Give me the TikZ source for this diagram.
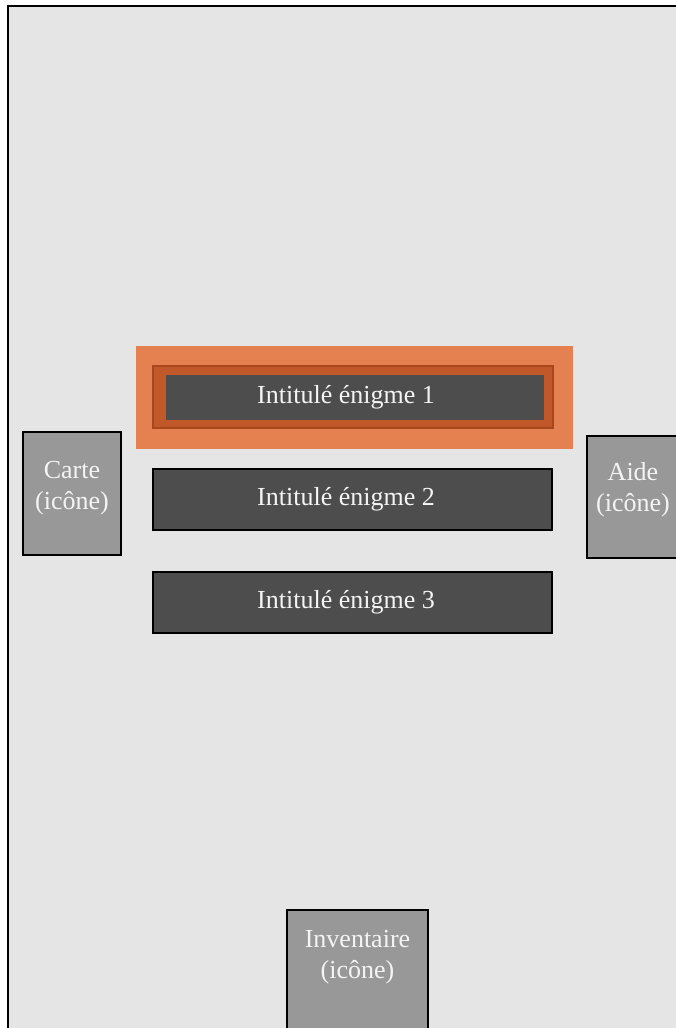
\documentclass[tikz,border=0pt]{standalone}
\usepackage{fontspec}
\setmainfont{Liberation Serif}
\definecolor{bgc}{HTML}{E5E5E5}
\definecolor{hlc}{HTML}{E58050}
\definecolor{hlin}{HTML}{C0582A}
\definecolor{hlbd}{HTML}{A8471C}
\definecolor{darkc}{HTML}{4D4D4D}
\definecolor{iconc}{HTML}{989898}
\definecolor{txtc}{HTML}{F4F4F4}
\tikzset{
  darkbox/.style={draw=black, line width=2pt, fill=darkc, inner sep=0pt},
  iconbox/.style={draw=black, line width=2pt, fill=iconc, inner sep=0pt},
  lbl/.style={text=txtc, font=\fontsize{26}{31}\selectfont, align=center, inner sep=0pt},
}
\begin{document}
\begin{tikzpicture}[x=1pt,y=-1pt]
\useasboundingbox (0,0) rectangle (676,1028);
\fill[white] (0,0) rectangle (676,1028);
\draw[line width=2.5pt, fill=bgc] (8,6) rectangle (700,1050);
% highlighted item 1
\node[fill=hlc, inner sep=0pt, minimum width=437pt, minimum height=103pt] (hl) at (354.5,397.5) {};
\node[fill=hlin, draw=hlbd, line width=1.5pt, inner sep=0pt, minimum width=400pt, minimum height=62pt] (hlin) at (353,397) {};
\node[fill=darkc, inner sep=0pt, minimum width=378pt, minimum height=45pt] (e1) at (355,397.5) {};
\node[lbl] (t1) at (346,397) {Intitulé énigme 1};
% items 2 and 3
\node[darkbox, minimum width=399pt, minimum height=61pt] (e2) at (352.5,499.5) {};
\node[lbl] (t2) at (346,499) {Intitulé énigme 2};
\node[darkbox, minimum width=399pt, minimum height=61pt] (e3) at (352.5,602.5) {};
\node[lbl] (t3) at (346,602) {Intitulé énigme 3};
% icons
\node[iconbox, minimum width=98pt, minimum height=123pt] (carte) at (72,493.5) {};
\node[lbl] (tc) at (72,488) {Carte\\(icône)};
\node[iconbox, minimum width=92pt, minimum height=122pt] (aide) at (633,497) {};
\node[lbl] (ta) at (633,490) {Aide\\(icône)};
\node[iconbox, minimum width=141pt, minimum height=140pt] (inv) at (357.5,980) {};
\node[lbl] (ti) at (357.5,957) {Inventaire\\(icône)};
\end{tikzpicture}
\end{document}
